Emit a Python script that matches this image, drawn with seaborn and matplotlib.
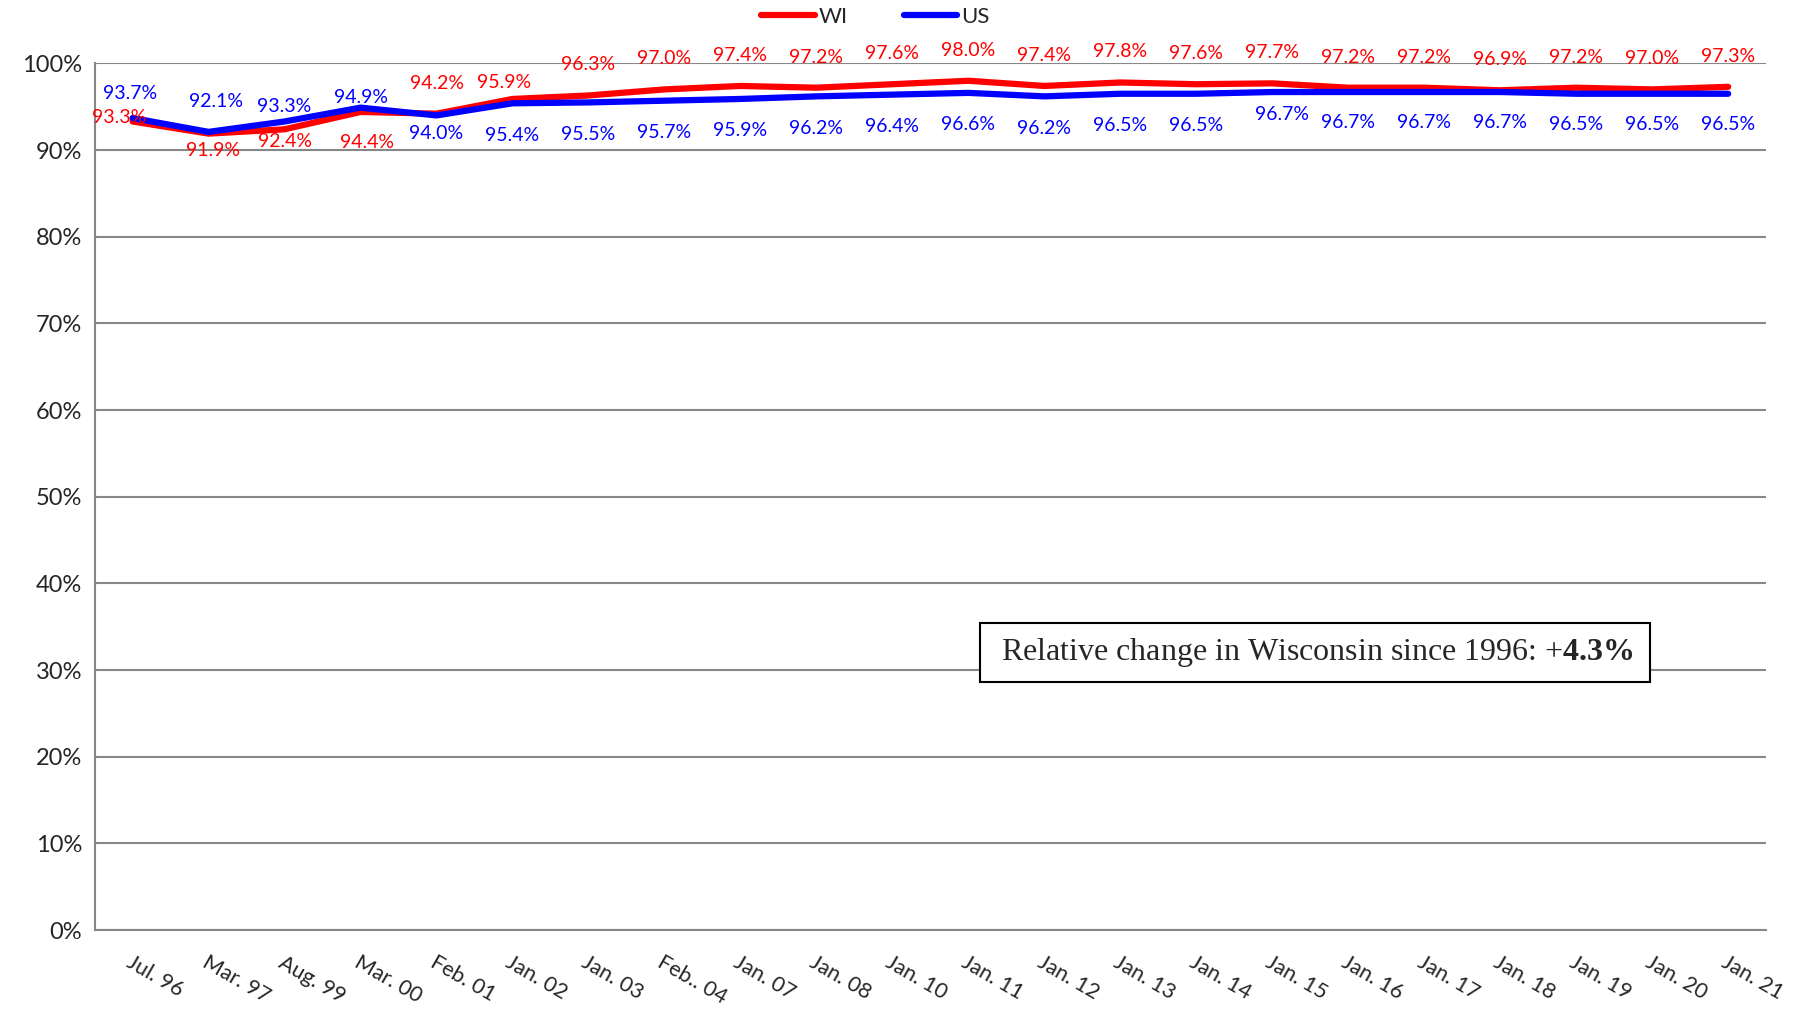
import matplotlib

matplotlib.use("Agg")
import matplotlib.pyplot as plt
import numpy as np
import pandas as pd
import seaborn as sns
from matplotlib.ticker import FixedLocator, PercentFormatter

# data
periods = [
    "Jul. 96", "Mar. 97", "Aug. 99", "Mar. 00", "Feb. 01", "Jan. 02",
    "Jan. 03", "Feb.. 04", "Jan. 07", "Jan. 08", "Jan. 10", "Jan. 11",
    "Jan. 12", "Jan. 13", "Jan. 14", "Jan. 15", "Jan. 16", "Jan. 17",
    "Jan. 18", "Jan. 19", "Jan. 20", "Jan. 21",
]
wi_rate = [
    93.3, 91.9, 92.4, 94.4, 94.2, 95.9, 96.3, 97.0, 97.4, 97.2, 97.6,
    98.0, 97.4, 97.8, 97.6, 97.7, 97.2, 97.2, 96.9, 97.2, 97.0, 97.3,
]
us_rate = [
    93.7, 92.1, 93.3, 94.9, 94.0, 95.4, 95.5, 95.7, 95.9, 96.2, 96.4,
    96.6, 96.2, 96.5, 96.5, 96.7, 96.7, 96.7, 96.7, 96.5, 96.5, 96.5,
]

# label offsets in points (dx, dy), mimicking the excel placement
wi_offsets = [(-10, 3), (3, -12), (0, -9), (5, -22), (0, 22), (-6, 12)] + [(0, 22)] * 16
us_offsets = (
    [(-2, 18), (5, 22), (0, 11), (0, 7), (0, -13)]
    + [(0, -23)] * 10
    + [(7, -16)]
    + [(0, -22)] * 6
)

colors = {"WI": "#ff0000", "US": "#0000ff"}

df = pd.DataFrame(
    {
        "x": list(range(len(periods))) * 2,
        "rate": np.array(wi_rate + us_rate) / 100,
        "area": ["WI"] * len(periods) + ["US"] * len(periods),
    }
)

sns.set_style("white")
plt.rcParams["font.family"] = ["Lato", "DejaVu Sans"]
plt.rcParams["mathtext.fontset"] = "custom"
plt.rcParams["mathtext.rm"] = "Liberation Serif"
plt.rcParams["mathtext.bf"] = "Liberation Serif:bold"

fig = plt.figure(figsize=(18.09, 10.10), dpi=100)
ax = fig.add_axes([0.0523, 0.0792, 0.924, 0.858])

sns.lineplot(
    data=df,
    x="x",
    y="rate",
    hue="area",
    hue_order=["WI", "US"],
    palette=colors,
    linewidth=4.5,
    ax=ax,
    legend=False,
)

# data labels
for i in range(len(periods)):
    dx, dy = wi_offsets[i]
    ax.annotate(
        f"{wi_rate[i]:.1f}%",
        (i, wi_rate[i] / 100),
        xytext=(dx, dy),
        textcoords="offset points",
        ha="center",
        va="center",
        color=colors["WI"],
        fontsize=14,
    )
    dx, dy = us_offsets[i]
    ax.annotate(
        f"{us_rate[i]:.1f}%",
        (i, us_rate[i] / 100),
        xytext=(dx, dy),
        textcoords="offset points",
        ha="center",
        va="center",
        color=colors["US"],
        fontsize=14,
    )

# axes cosmetics
grey = "#878787"
ax.set_xlim(-0.5, len(periods) - 0.5)
ax.set_ylim(0, 1)
ax.set_yticks(np.arange(0, 1.01, 0.1))
ax.yaxis.set_major_formatter(PercentFormatter(1.0, decimals=0))
ax.grid(axis="y", color=grey, linewidth=1.5)
ax.set_axisbelow(True)

ax.set_xticks(range(len(periods)))
ax.set_xticklabels(periods, rotation=-30, ha="left", rotation_mode="anchor")
ax.xaxis.set_minor_locator(FixedLocator(np.arange(-0.5, len(periods), 1)))
ax.tick_params(axis="x", which="major", length=0, pad=16, labelsize=15.5)
ax.tick_params(axis="x", which="minor", length=9, width=1.5, color=grey, direction="out")
ax.tick_params(axis="y", length=5, width=1.5, color=grey, direction="out", labelsize=17, pad=4)
ax.set_xlabel("")
ax.set_ylabel("")

for side in ["top", "right"]:
    ax.spines[side].set_visible(False)
for side in ["left", "bottom"]:
    ax.spines[side].set_color(grey)
    ax.spines[side].set_linewidth(1.5)

# legend above the plot
handles = [
    plt.Line2D([], [], color=colors["WI"], linewidth=4.5, label="WI"),
    plt.Line2D([], [], color=colors["US"], linewidth=4.5, label="US"),
]
fig.legend(
    handles=handles,
    loc="center",
    bbox_to_anchor=(0.484, 0.983),
    ncol=2,
    frameon=False,
    fontsize=16,
    handlelength=2.4,
    handletextpad=0.2,
    columnspacing=2.5,
)

# annotation box
ax.text(
    0.73,
    0.32,
    r" Relative change in Wisconsin since 1996: +$\mathbf{4.3\%}$ ",
    transform=ax.transAxes,
    ha="center",
    va="center",
    fontsize=23,
    family="Liberation Serif",
    bbox=dict(boxstyle="square,pad=0.4", facecolor="white", edgecolor="black", linewidth=1.5),
)

fig.savefig("out.png", dpi=100, facecolor="white")
plt.close()
